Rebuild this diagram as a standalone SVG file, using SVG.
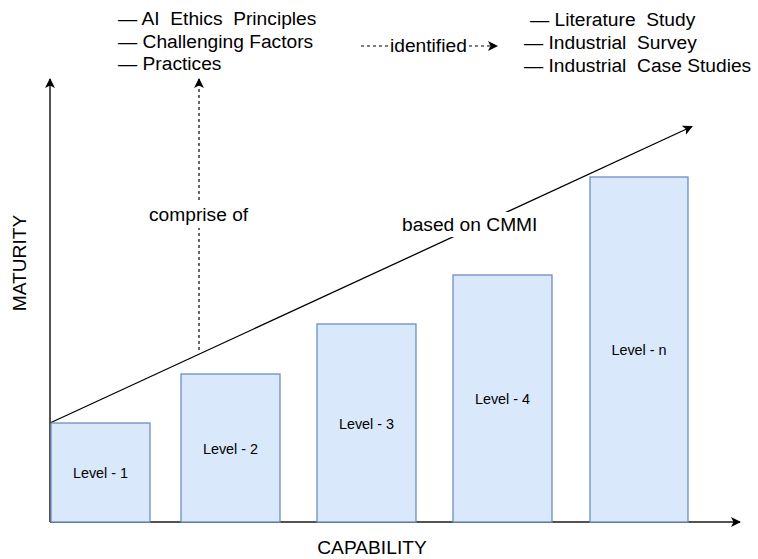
<svg xmlns="http://www.w3.org/2000/svg" width="758" height="559" viewBox="0 0 758 559">
<style>
text{font-family:"Liberation Sans",Arial,sans-serif;fill:#000;white-space:pre}
.big{font-size:19.2px}
.lvl{font-size:14.4px;text-anchor:middle;dominant-baseline:central}
.box{fill:#dae8fc;stroke:#6c8ebf;stroke-width:1.3}
.axis{stroke:#1a1a1a;stroke-width:1.5;fill:none}
.line{stroke:#000;stroke-width:1.3;fill:none}
.dash{stroke:#000;stroke-width:1.2;fill:none;stroke-dasharray:3 3}
.bg{fill:#fff}
</style>
<defs>
<marker id="arr" viewBox="0 0 10 10" refX="9" refY="5" markerWidth="10" markerHeight="10" markerUnits="userSpaceOnUse" orient="auto">
<path d="M0,0 L10,5 L0,10 L2.5,5 Z" fill="#000"/>
</marker>
</defs>
<g id="connectors">
<line class="axis" x1="50" y1="522" x2="50" y2="79" marker-end="url(#arr)"/>
<line class="axis" x1="50" y1="522" x2="740" y2="522" marker-end="url(#arr)"/>
<line class="line" x1="50" y1="423" x2="692" y2="126.5" marker-end="url(#arr)"/>
<line class="dash" x1="199" y1="350" x2="199" y2="79" marker-end="url(#arr)"/>
<line class="dash" x1="361" y1="46" x2="388" y2="46"/>
<line class="dash" x1="469" y1="46" x2="497" y2="46" marker-end="url(#arr)"/>
</g>
<g id="level1"><rect class="box" x="51" y="423" width="99" height="99"/><text class="lvl" x="100.5" y="473">Level - 1</text></g>
<g id="level2"><rect class="box" x="181" y="374" width="99" height="148"/><text class="lvl" x="230.5" y="449">Level - 2</text></g>
<g id="level3"><rect class="box" x="317" y="324" width="99" height="198"/><text class="lvl" x="366.5" y="424">Level - 3</text></g>
<g id="level4"><rect class="box" x="453" y="275" width="99" height="247"/><text class="lvl" x="502.5" y="399">Level - 4</text></g>
<g id="leveln"><rect class="box" x="590" y="177" width="98" height="345"/><text class="lvl" x="639" y="350">Level - n</text></g>
<g id="left-list">
<text class="big" x="118" y="25">— AI  Ethics  Principles</text>
<text class="big" x="118" y="48">— Challenging Factors</text>
<text class="big" x="118" y="70">— Practices</text>
</g>
<g id="right-list">
<text class="big" x="530" y="26">— Literature  Study</text>
<text class="big" x="524" y="49">— Industrial  Survey</text>
<text class="big" x="524" y="72">— Industrial  Case Studies</text>
</g>
<g id="labels">
<text class="big" x="390" y="52">identified</text>
<rect class="bg" x="147" y="203" width="104" height="25"/>
<text class="big" x="149" y="221">comprise of</text>
<rect class="bg" x="400" y="212" width="139" height="25"/>
<text class="big" x="402" y="231">based on CMMI</text>
<text class="big" x="372" y="554" text-anchor="middle">CAPABILITY</text>
<text class="big" transform="translate(26,263) rotate(-90)" text-anchor="middle">MATURITY</text>
</g>
</svg>
